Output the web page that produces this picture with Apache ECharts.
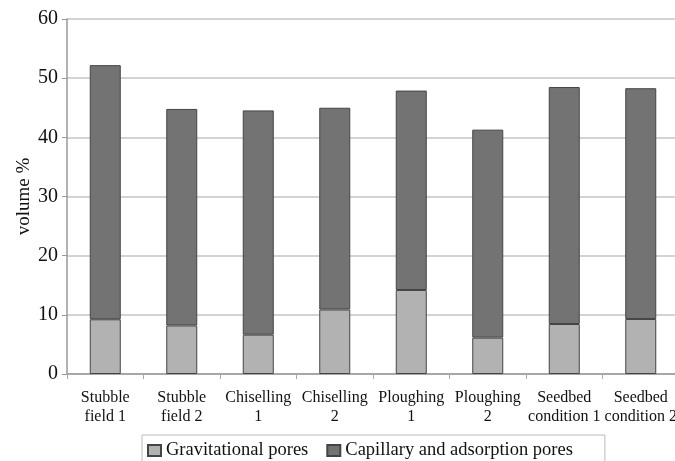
<!DOCTYPE html>
<html><head><meta charset="utf-8">
<script src="https://cdn.jsdelivr.net/npm/echarts@6/dist/echarts.min.js"></script>
<style>html,body{margin:0;padding:0;background:#fff}#c{width:675px;height:461px}</style>
</head><body><div id="c"></div>
<script>
var categories = ["Stubble\nfield 1","Stubble\nfield 2","Chiselling\n1","Chiselling\n2","Ploughing\n1","Ploughing\n2","Seedbed\ncondition 1","Seedbed\ncondition 2"];
var gravitational = [9.25, 8.2, 6.65, 10.9, 14.2, 6.15, 8.45, 9.3];
var capillary = [42.95, 36.6, 37.9, 34.1, 33.7, 35.15, 40.05, 39.0];
var seriesNames = ["Gravitational pores", "Capillary and adsorption pores"];
var yTicks = {min: 0, max: 60, interval: 10};
var font = "Liberation Serif";
var chart = echarts.init(document.getElementById('c'));
chart.setOption({
  animation: false,
  textStyle: {fontFamily: font},
  grid: {left: 67, top: 19, bottom: 87, right: -4, outerBoundsMode: 'none', containLabel: false},
  legend: {
    left: 142, top: 435, width: 465,
    padding: [6, 32, 12, 5],
    borderColor: '#bbbbbb', borderWidth: 1,
    icon: 'rect',
    itemWidth: 13, itemHeight: 11, itemGap: 18,
    textStyle: {fontFamily: font, fontSize: 18.5, color: '#111'},
    data: seriesNames
  },
  xAxis: {
    type: 'category', data: categories,
    axisLine: {lineStyle: {color: '#999', width: 1.5}},
    axisTick: {show: true, length: 5, lineStyle: {color: '#aaa'}},
    axisLabel: {fontFamily: font, fontSize: 16, color: '#111', lineHeight: 19, margin: 14, interval: 0}
  },
  yAxis: {
    type: 'value', min: yTicks.min, max: yTicks.max, interval: yTicks.interval,
    name: 'volume %', nameLocation: 'middle', nameGap: 33, nameMoveOverlap: false,
    nameTextStyle: {fontFamily: font, fontSize: 19, color: '#111'},
    axisLine: {show: true, lineStyle: {color: '#999', width: 1.5}},
    axisTick: {show: true, length: 5, lineStyle: {color: '#999'}},
    axisLabel: {fontFamily: font, fontSize: 20, color: '#111', margin: 9},
    splitLine: {lineStyle: {color: '#c4c4c4', width: 1.5}}
  },
  series: [
    {name: seriesNames[0], type: 'bar', stack: 't', barWidth: 31, data: gravitational,
     itemStyle: {color: '#b2b2b2', borderColor: '#444', borderWidth: 1}},
    {name: seriesNames[1], type: 'bar', stack: 't', barWidth: 31, data: capillary,
     itemStyle: {color: '#737373', borderColor: '#444', borderWidth: 1}}
  ]
});
</script></body></html>
